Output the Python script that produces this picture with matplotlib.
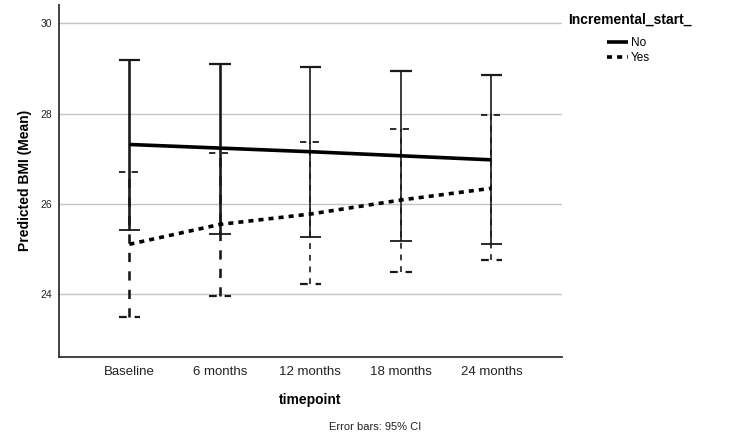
import matplotlib
matplotlib.use("Agg")
import matplotlib.pyplot as plt
import numpy as np

plt.rcParams['font.family'] = ['Liberation Sans', 'DejaVu Sans']

timepoints = ["Baseline", "6 months", "12 months", "18 months", "24 months"]
no_mean = [27.32, 27.24, 27.16, 27.07, 26.98]
no_low = [25.42, 25.34, 25.28, 25.19, 25.11]
no_high = [29.20, 29.11, 29.04, 28.94, 28.85]
yes_mean = [25.11, 25.55, 25.78, 26.09, 26.35]
yes_low = [23.50, 23.97, 24.24, 24.49, 24.76]
yes_high = [26.71, 27.13, 27.37, 27.67, 27.98]
yticks = [24, 26, 28, 30]

fig = plt.figure(figsize=(7.5, 4.43), dpi=100)
ax = fig.add_axes([0.0787, 0.1948, 0.6706, 0.794])

x = np.arange(len(timepoints))
cap = 0.12
ink = "#1a1a1a"
bar_lw = [1.9, 1.9, 1.2, 1.2, 1.2]

for yv in yticks:
    ax.axhline(yv, color="#c4c4c4", lw=1.0, zorder=0)

# No series
ax.plot(x, no_mean, color="black", lw=2.6, solid_capstyle="butt", zorder=3, label="No")
ax.vlines(x, no_low, no_high, color=ink, lw=bar_lw, zorder=2)
ax.hlines(no_low, x - cap, x + cap, color=ink, lw=1.3, zorder=2)
ax.hlines(no_high, x - cap, x + cap, color=ink, lw=1.6, zorder=2)

# Yes series
ax.plot(x, yes_mean, color="black", lw=2.6, linestyle=(0, (1.4, 1.4)), zorder=3, label="Yes")
dash = (0, (3.5, 3.5))
ax.vlines(x, yes_low, yes_high, color=ink, lw=bar_lw, linestyles=[dash], zorder=2)
ax.hlines(yes_low, x - cap, x + cap, color=ink, lw=1.6, linestyles=[dash], zorder=2)
ax.hlines(yes_high, x - cap, x + cap, color=ink, lw=1.3, linestyles=[dash], zorder=2)

ax.set_xlim(-0.778, 4.78)
ax.set_ylim(22.62, 30.41)
ax.set_xticks(x)
ax.set_xticklabels(timepoints, fontsize=9.5, color="#222222")
ax.set_yticks(yticks)
ax.set_yticklabels([str(v) for v in yticks], fontsize=7.5, color="#222222")
ax.tick_params(axis="both", length=0, pad=5)
ax.tick_params(axis="x", pad=7)

for s in ["top", "right"]:
    ax.spines[s].set_visible(False)
for s in ["left", "bottom"]:
    ax.spines[s].set_color("#333333")
    ax.spines[s].set_linewidth(1.3)

ax.set_ylabel("Predicted BMI (Mean)", fontsize=10, fontweight="bold")
ax.yaxis.set_label_coords(-0.0676, 0.5)
ax.set_xlabel("timepoint", fontsize=10, fontweight="bold")
ax.xaxis.set_label_coords(0.499, -0.123)
ax.xaxis.label.set_va("center")
ax.yaxis.label.set_va("center")

fig.text(375 / 750, 1 - 427 / 443, "Error bars: 95% CI", fontsize=8, ha="center", va="center", color="#222222")

fig.text(568 / 750, 1 - 20 / 443, "Incremental_start_", fontsize=10, fontweight="bold",
         ha="left", va="center")
leg = fig.legend(loc="upper left", bbox_to_anchor=(607 / 750, 1 - 37 / 443), frameon=False,
                 fontsize=8.5, handlelength=1.8, handletextpad=0.25, labelspacing=0.25,
                 borderpad=0, borderaxespad=0)

fig.savefig("out.png", dpi=100)
